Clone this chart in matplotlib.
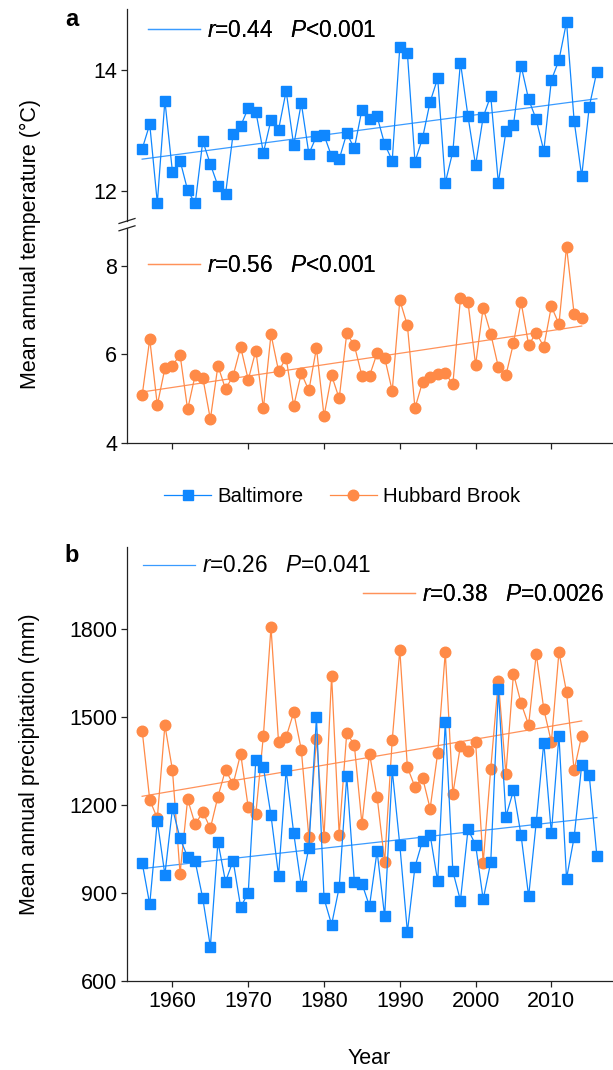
import numpy as np
import matplotlib
matplotlib.use("Agg")
import matplotlib.pyplot as plt
from matplotlib.lines import Line2D

plt.rcParams["font.family"] = ["Liberation Sans", "DejaVu Sans"]
plt.rcParams["mathtext.fontset"] = "custom"
plt.rcParams["mathtext.rm"] = "Liberation Sans"
plt.rcParams["mathtext.it"] = "Liberation Sans:italic"

# data
years_balt = list(range(1956, 2017))
years_hb = list(range(1956, 2015))

temp_balt = [12.69, 13.10, 11.80, 13.49, 12.31, 12.50, 12.01, 11.79, 12.82, 12.44,
             12.08, 11.94, 12.94, 13.07, 13.37, 13.31, 12.63, 13.17, 13.01, 13.65,
             12.75, 13.45, 12.61, 12.90, 12.92, 12.57, 12.52, 12.95, 12.70, 13.34,
             13.18, 13.23, 12.77, 12.50, 14.38, 14.27, 12.48, 12.87, 13.47, 13.86,
             12.13, 12.65, 14.12, 13.23, 12.42, 13.22, 13.57, 12.13, 12.98, 13.09,
             14.07, 13.51, 13.18, 12.66, 13.83, 14.16, 14.79, 13.16, 12.24, 13.39,
             13.97]

temp_hb = [5.07, 6.34, 4.85, 5.68, 5.74, 5.99, 4.75, 5.53, 5.47, 4.53,
           5.74, 5.21, 5.51, 6.16, 5.42, 6.08, 4.78, 6.45, 5.62, 5.91,
           4.83, 5.57, 5.18, 6.14, 4.60, 5.52, 5.00, 6.47, 6.20, 5.51,
           5.51, 6.02, 5.92, 5.17, 7.22, 6.65, 4.78, 5.37, 5.48, 5.56,
           5.57, 5.32, 7.26, 7.17, 5.76, 7.05, 6.46, 5.71, 5.52, 6.25,
           7.18, 6.21, 6.48, 6.17, 7.08, 6.68, 8.43, 6.91, 6.81]

prec_balt = [1004, 862, 1146, 963, 1189, 1087, 1023, 1008, 882, 718,
             1075, 939, 1011, 853, 901, 1355, 1329, 1165, 960, 1319,
             1104, 924, 1055, 1499, 882, 793, 920, 1298, 939, 933,
             856, 1043, 821, 1319, 1064, 768, 990, 1079, 1099, 940,
             1484, 974, 875, 1117, 1065, 879, 1006, 1594, 1161, 1250,
             1098, 889, 1141, 1413, 1104, 1437, 950, 1090, 1336, 1301,
             1028]

prec_hb = [1454, 1218, 1155, 1472, 1319, 967, 1220, 1134, 1177, 1121,
           1229, 1320, 1271, 1375, 1192, 1170, 1437, 1806, 1414, 1432,
           1516, 1389, 1090, 1426, 1092, 1641, 1099, 1447, 1404, 1136,
           1375, 1229, 1007, 1422, 1729, 1329, 1262, 1294, 1188, 1378,
           1721, 1238, 1403, 1384, 1416, 1004, 1324, 1624, 1306, 1648,
           1547, 1473, 1715, 1527, 1414, 1722, 1585, 1319, 1436]

stats_temp_balt = r"$\it{r}$=0.44   $\it{P}$<0.001"
stats_temp_hb = r"$\it{r}$=0.56   $\it{P}$<0.001"
stats_prec_balt = r"$\it{r}$=0.26   $\it{P}$=0.041"
stats_prec_hb = r"$\it{r}$=0.38   $\it{P}$=0.0026"

blue = "#0F87FF"
blue_l = "#3A9BFF"
orange = "#FF8A47"
orange_l = "#FF925A"
fs = 15.5
fs_stat = 16.3

W, H = 613, 1070
fig = plt.figure(figsize=(W / 100, H / 100), dpi=100)


def box(x0, y0, x1, y1):
    return [x0 / W, 1 - y1 / H, (x1 - x0) / W, (y1 - y0) / H]


ax_top = fig.add_axes(box(127, 9.3, 612, 221))
ax_bot = fig.add_axes(box(127, 228, 612, 442.7))
ax_b = fig.add_axes(box(127, 547.3, 612, 981.3))


def style(ax):
    for s in ["top", "right"]:
        ax.spines[s].set_visible(False)
    for s in ["left", "bottom"]:
        ax.spines[s].set_linewidth(0.9)
        ax.spines[s].set_color("#222222")
    ax.tick_params(direction="out", length=4, width=0.9, labelsize=fs,
                   color="#222222", pad=3)
    ax.set_xlim(1954, 2018)
    ax.set_xticks([1960, 1970, 1980, 1990, 2000, 2010])


def trend(ax, x, y, color, label, anchor):
    x = np.array(x)
    k, b = np.polyfit(x, y, 1)
    ln, = ax.plot(x, k * x + b, color=color, lw=0.9, zorder=3)
    leg = ax.legend([ln], [label], loc="center left", bbox_to_anchor=anchor,
                    frameon=False, fontsize=fs_stat, handlelength=2.3,
                    handletextpad=0.3, borderpad=0, borderaxespad=0)
    ax.add_artist(leg)


sq = dict(marker="s", ms=7.2, color=blue, lw=0.9, mec=blue, zorder=4)
ci = dict(marker="o", ms=7.6, color=orange, lw=0.9, mec=orange, zorder=4)

# panel a, upper part: Baltimore
style(ax_top)
ax_top.plot(years_balt, temp_balt, **sq)
trend(ax_top, years_balt, temp_balt, blue_l, stats_temp_balt, (0.043, 0.902))
ax_top.set_ylim(11.5, 15)
ax_top.set_yticks([12, 14])
ax_top.spines["bottom"].set_visible(False)
ax_top.tick_params(axis="x", bottom=False, labelbottom=False)

# panel a, lower part: Hubbard Brook
style(ax_bot)
ax_bot.plot(years_hb, temp_hb, **ci)
trend(ax_bot, years_hb, temp_hb, orange_l, stats_temp_hb, (0.043, 0.824))
ax_bot.set_ylim(4, 8.85)
ax_bot.set_yticks([4, 6, 8])
ax_bot.tick_params(axis="x", labelbottom=False)

# axis break marks
for yb in (221, 228.3):
    fig.add_artist(Line2D([119 / W, 135 / W], [1 - (yb + 2.5) / H, 1 - (yb - 2.5) / H],
                          color="#222222", lw=0.9))

# panel b
style(ax_b)
ax_b.plot(years_hb, prec_hb, **ci)
ax_b.plot(years_balt, prec_balt, **sq)
trend(ax_b, years_balt, prec_balt, blue_l, stats_prec_balt, (0.033, 0.957))
trend(ax_b, years_hb, prec_hb, orange_l, stats_prec_hb, (0.486, 0.892))
ax_b.set_ylim(600, 2078)
ax_b.set_yticks([600, 900, 1200, 1500, 1800])
ax_b.set_xlabel("Year", fontsize=fs, labelpad=26)

# shared legend between panels
handles = [Line2D([], [], **{k: v for k, v in sq.items() if k != "zorder"}),
           Line2D([], [], **{k: v for k, v in ci.items() if k != "zorder"})]
fig.legend(handles, ["Baltimore", "Hubbard Brook"], loc="center right",
           bbox_to_anchor=(520 / W, 1 - 497 / H), ncol=2, frameon=False,
           fontsize=14.7, handlelength=2.3, handletextpad=0.3, columnspacing=1.3,
           borderpad=0, borderaxespad=0)

fig.text(30 / W, 1 - 244 / H, "Mean annual temperature (°C)", rotation=90,
         ha="center", va="center", fontsize=fs)
fig.text(30 / W, 1 - 764 / H, "Mean annual precipitation (mm)", rotation=90,
         ha="center", va="center", fontsize=fs)
fig.text(72 / W, 1 - 20 / H, "a", fontsize=17, fontweight="bold", ha="center", va="center")
fig.text(72 / W, 1 - 556 / H, "b", fontsize=17, fontweight="bold", ha="center", va="center")

fig.savefig("out.png", dpi=100)
